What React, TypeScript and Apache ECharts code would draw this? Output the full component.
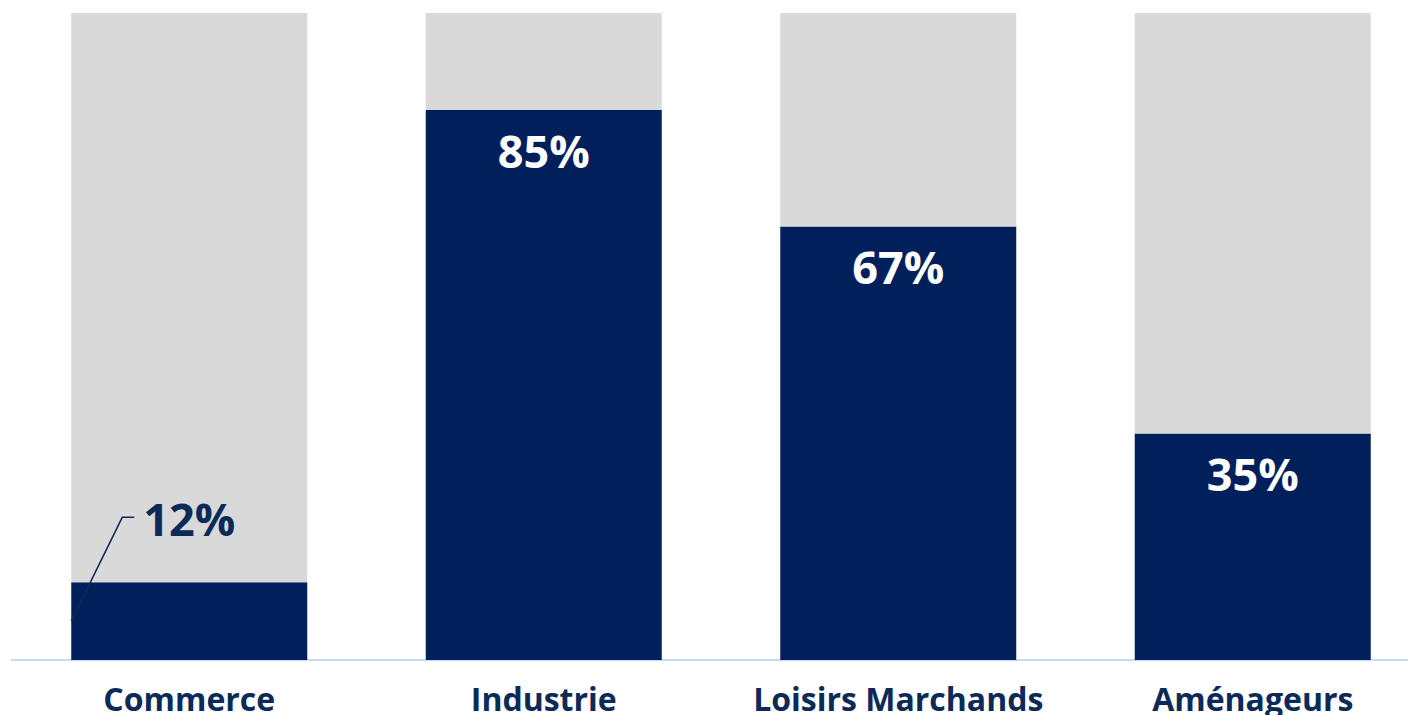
import React, { useEffect, useRef } from "react";
import * as echarts from "echarts";

const categories = ["Commerce", "Industrie", "Loisirs Marchands", "Aménageurs"];
const values = [12, 85, 67, 35];
const remainder = values.map((v) => 100 - v);

const NAVY = "#001f5b";
const GREY = "#d9d9d9";
const TEXT = "#0c2a58";
const FONT = "'Open Sans', 'Noto Sans', sans-serif";

export default function App() {
  const ref = useRef<HTMLDivElement>(null);

  useEffect(() => {
    if (!ref.current) return;
    const chart = echarts.init(ref.current, undefined, { renderer: "svg" });
    const option: any = {
      animation: false,
      backgroundColor: "#ffffff",
      grid: { left: 12, top: 13, bottom: 55, width: 1418, containLabel: false },
      xAxis: {
        type: "category",
        data: categories,
        axisLine: { show: true, lineStyle: { color: "#c3dbf5", width: 2 } },
        axisTick: { show: false },
        axisLabel: {
          color: TEXT,
          fontFamily: FONT,
          fontWeight: "bold",
          fontSize: 32,
          margin: 22,
          interval: 0,
        },
      },
      yAxis: {
        type: "value",
        min: 0,
        max: 100,
        show: false,
        splitLine: { show: false },
      },
      series: [
        {
          type: "bar",
          stack: "total",
          barWidth: 236,
          itemStyle: { color: NAVY },
          label: {
            show: true,
            position: ["50%", 40],
            align: "center",
            verticalAlign: "middle",
            color: "#ffffff",
            fontFamily: FONT,
            fontWeight: "bold",
            fontSize: 45,
            formatter: "{c}%",
          },
          data: values.map((v, i) =>
            i === 0
              ? {
                  value: v,
                  label: {
                    position: [72, -64],
                    align: "left",
                    verticalAlign: "middle",
                    color: TEXT,
                  },
                }
              : v
          ),
        },
        {
          type: "bar",
          stack: "total",
          barWidth: 236,
          itemStyle: { color: GREY },
          label: { show: false },
          data: remainder,
        },
      ],
    };
    chart.setOption(option);

    // leader line for the first (outside) label, positioned through the chart's scales
    const mid = chart.convertToPixel({ gridIndex: 0 }, [0, values[0] / 2]) as number[];
    const bandHalf = 236 / 2;
    const barTop = chart.convertToPixel({ gridIndex: 0 }, [0, values[0]]) as number[];
    const x0 = mid[0] - bandHalf;
    const y0 = mid[1];
    const labelY = barTop[1] - 65;
    chart.setOption({
      graphic: [
        {
          type: "polyline",
          shape: {
            points: [
              [x0, y0],
              [x0 + 51, labelY],
              [x0 + 63, labelY],
            ],
          },
          style: { stroke: TEXT, lineWidth: 1.5, fill: "none" },
          z: 100,
        },
      ],
    });

    return () => chart.dispose();
  }, []);

  return (
    <div
      style={{
        position: "fixed",
        left: 0,
        top: 0,
        width: 1408,
        height: 715,
        overflow: "hidden",
        background: "#fff",
      }}
    >
      <div ref={ref} style={{ width: 1440, height: 715 }} />
    </div>
  );
}
